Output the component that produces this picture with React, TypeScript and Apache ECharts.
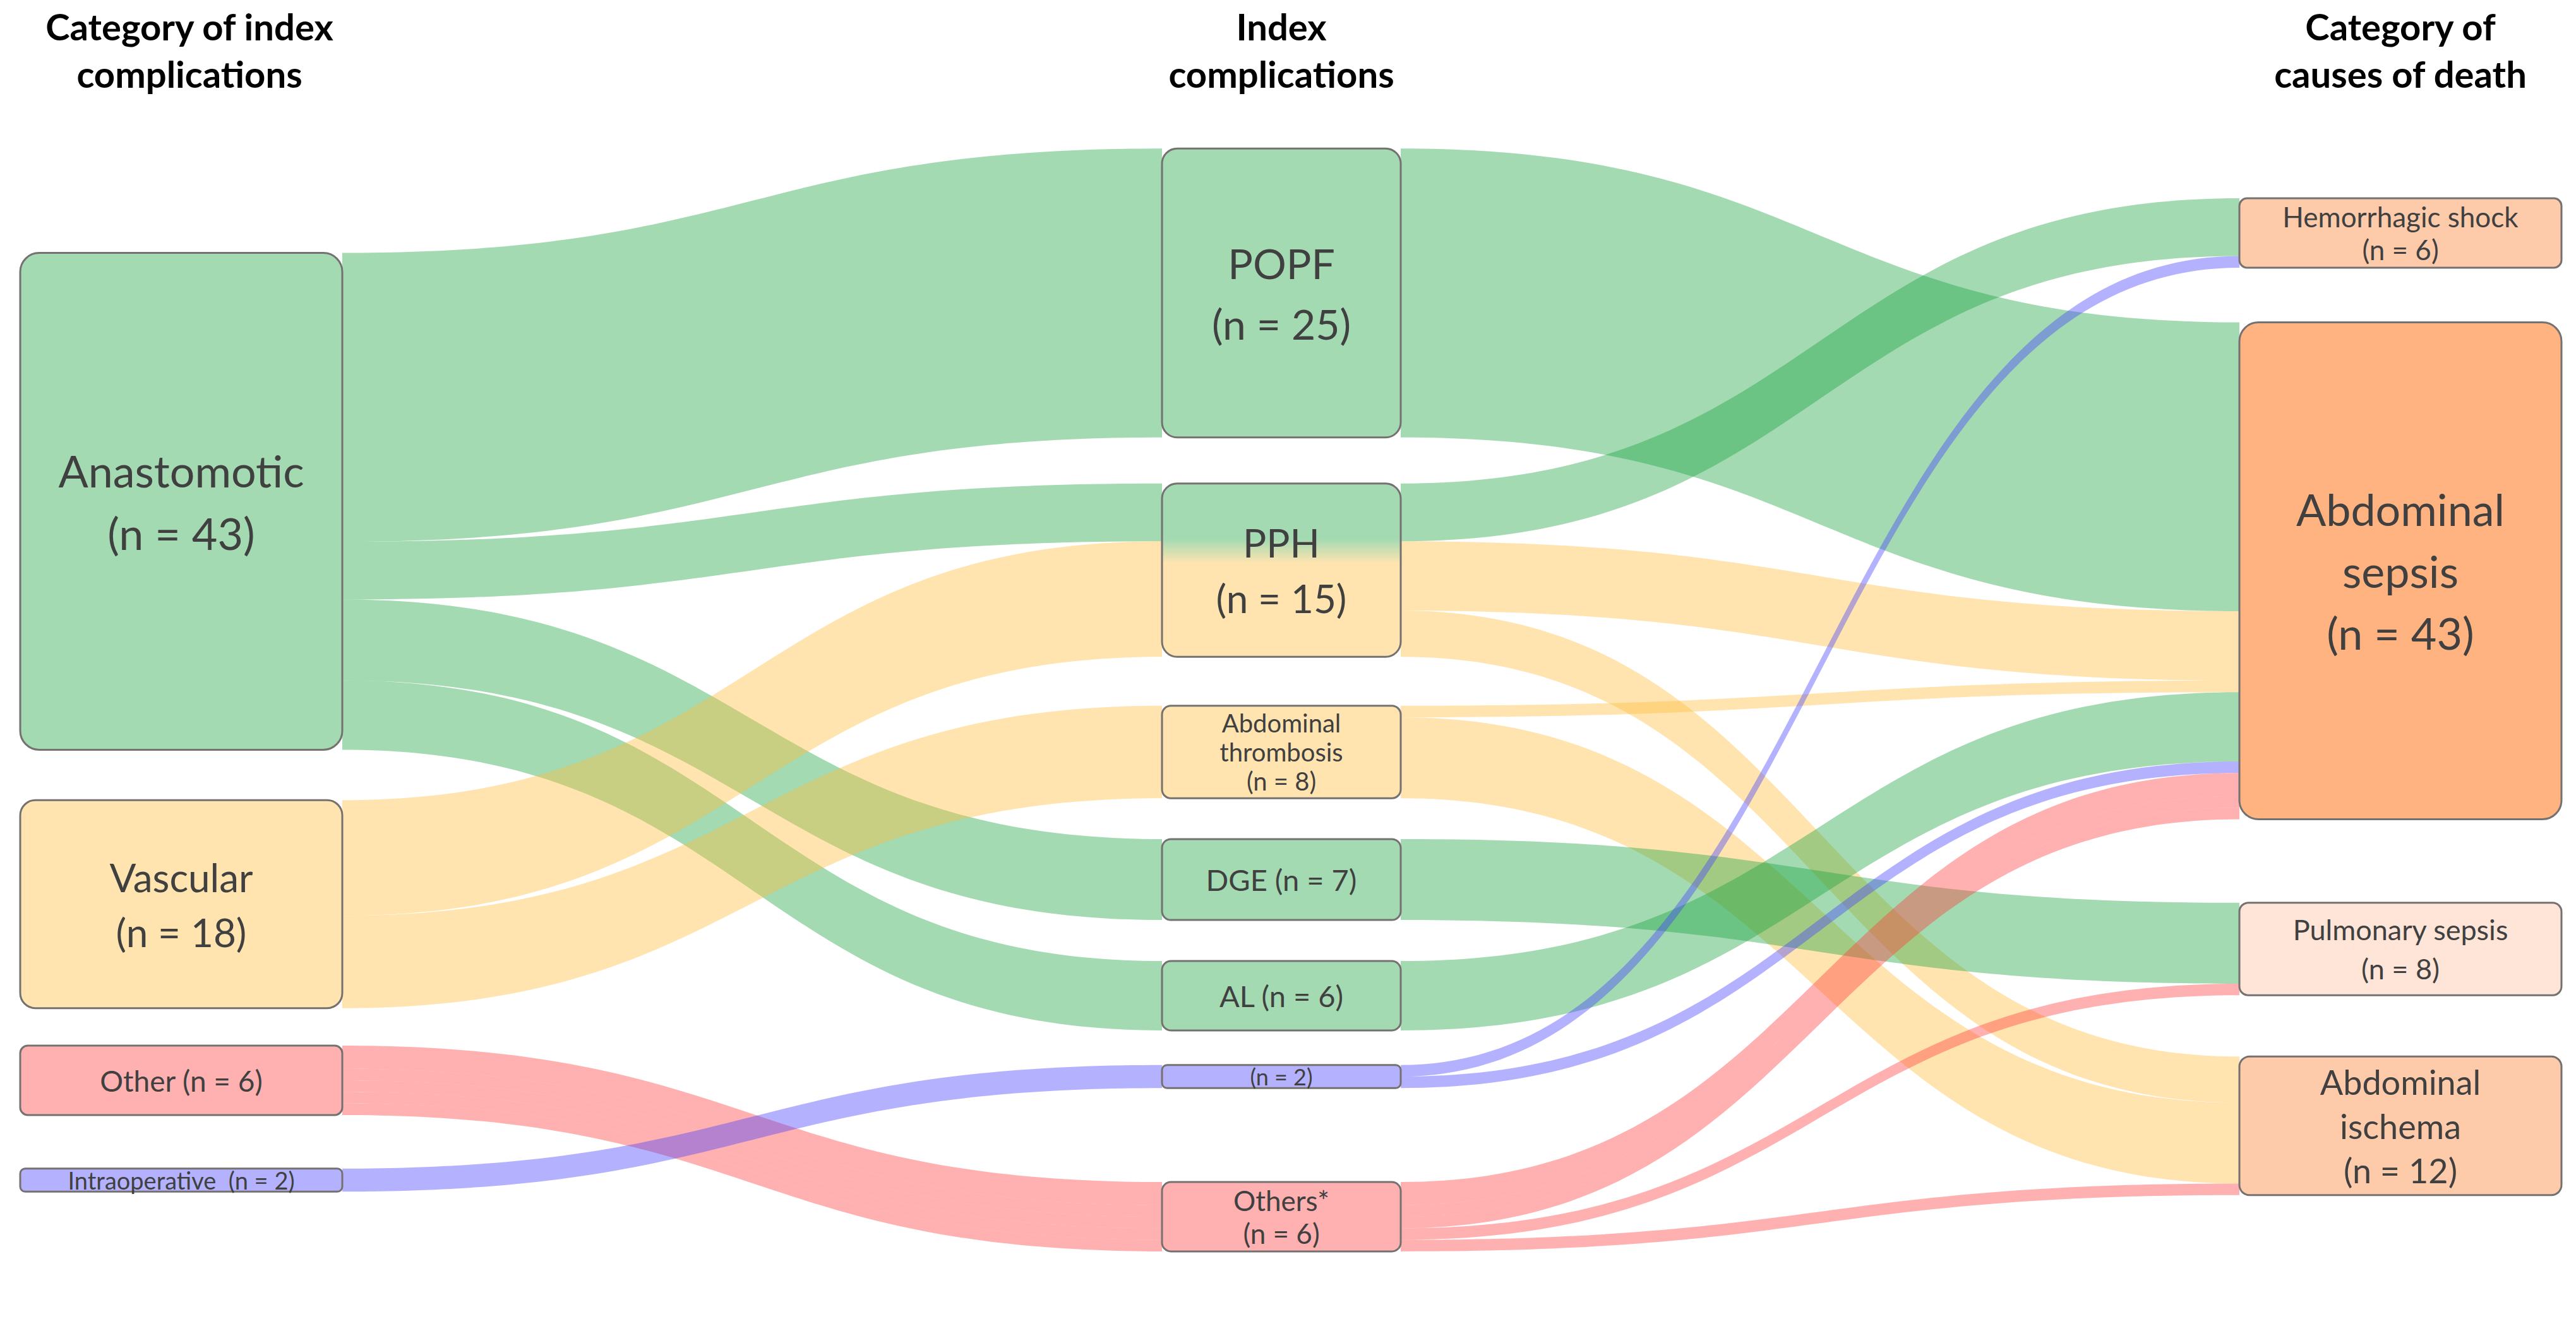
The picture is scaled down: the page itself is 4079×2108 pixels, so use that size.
import React, { useEffect, useRef } from 'react';
import * as echarts from 'echarts';

// ---------- DATA ----------
const columnTitles = ['Category of index\ncomplications', 'Index\ncomplications', 'Category of\ncauses of death'];

const categoryNodes = ['Anastomotic', 'Vascular', 'Other', 'Intraoperative'];
const complicationNodes = ['POPF', 'PPH', 'Abdominal thrombosis', 'DGE', 'AL', 'Intraoperative complication', 'Others*'];
const deathNodes = ['Hemorrhagic shock', 'Abdominal sepsis', 'Pulmonary sepsis', 'Abdominal ischema'];

const nodeLabelTemplates: Record<string, string> = {
  Anastomotic: 'Anastomotic\n(n = {n})',
  Vascular: 'Vascular\n(n = {n})',
  Other: 'Other (n = {n})',
  Intraoperative: 'Intraoperative  (n = {n})',
  POPF: 'POPF\n(n = {n})',
  PPH: 'PPH\n(n = {n})',
  'Abdominal thrombosis': 'Abdominal\nthrombosis\n(n = {n})',
  DGE: 'DGE (n = {n})',
  AL: 'AL (n = {n})',
  'Intraoperative complication': '(n = {n})',
  'Others*': 'Others*\n(n = {n})',
  'Hemorrhagic shock': 'Hemorrhagic shock\n(n = {n})',
  'Abdominal sepsis': 'Abdominal\nsepsis\n(n = {n})',
  'Pulmonary sepsis': 'Pulmonary sepsis\n(n = {n})',
  'Abdominal ischema': 'Abdominal\nischema\n(n = {n})',
};

// [source, target, patients, category of index complication]
const stage1Links: [string, string, number, string][] = [
  ['Anastomotic', 'POPF', 25, 'anastomotic'],
  ['Anastomotic', 'PPH', 5, 'anastomotic'],
  ['Anastomotic', 'DGE', 7, 'anastomotic'],
  ['Anastomotic', 'AL', 6, 'anastomotic'],
  ['Vascular', 'PPH', 10, 'vascular'],
  ['Vascular', 'Abdominal thrombosis', 8, 'vascular'],
  ['Other', 'Others*', 2, 'other'],
  ['Other', 'Others*', 1, 'other'],
  ['Other', 'Others*', 1, 'other'],
  ['Other', 'Others*', 1, 'other'],
  ['Other', 'Others*', 1, 'other'],
  ['Intraoperative', 'Intraoperative complication', 2, 'intraoperative'],
];

const stage2Links: [string, string, number, string][] = [
  ['POPF', 'Abdominal sepsis', 25, 'anastomotic'],
  ['PPH', 'Hemorrhagic shock', 5, 'anastomotic'],
  ['PPH', 'Abdominal sepsis', 6, 'vascular'],
  ['PPH', 'Abdominal ischema', 4, 'vascular'],
  ['Abdominal thrombosis', 'Abdominal sepsis', 1, 'vascular'],
  ['Abdominal thrombosis', 'Abdominal ischema', 7, 'vascular'],
  ['DGE', 'Pulmonary sepsis', 7, 'anastomotic'],
  ['AL', 'Abdominal sepsis', 6, 'anastomotic'],
  ['Intraoperative complication', 'Hemorrhagic shock', 1, 'intraoperative'],
  ['Intraoperative complication', 'Abdominal sepsis', 1, 'intraoperative'],
  ['Others*', 'Abdominal sepsis', 2, 'other'],
  ['Others*', 'Abdominal sepsis', 1, 'other'],
  ['Others*', 'Abdominal sepsis', 1, 'other'],
  ['Others*', 'Pulmonary sepsis', 1, 'other'],
  ['Others*', 'Abdominal ischema', 1, 'other'],
];

// ---------- LAYOUT & STYLE ----------
const CW = 4079;
const CH = 2108;
const SERIES_LEFT = 32;
const SERIES_RIGHT = 23;
const LW = CW - SERIES_LEFT - SERIES_RIGHT;
const LH = CH;
const PX_PER_PATIENT = 18.3;
const columnX = [32, 1840, 3546];
const sideNodeWidth = 510;
const midNodeWidth = 378;

const nodeCenterY: Record<string, number> = {
  Anastomotic: 794, Vascular: 1432, Other: 1711, Intraoperative: 1869,
  POPF: 464, PPH: 903, 'Abdominal thrombosis': 1191, DGE: 1393, AL: 1577,
  'Intraoperative complication': 1705, 'Others*': 1927,
  'Hemorrhagic shock': 369, 'Abdominal sepsis': 904, 'Pulmonary sepsis': 1503, 'Abdominal ischema': 1783,
};

const GREEN = '#A3DAB2';
const YELLOW = '#FFE4B0';
const RED = '#FFB0B0';
const PURPLE = '#B4B2FF';

const linkColors: Record<string, string> = {
  anastomotic: '#19A23F',
  vascular: '#FFBB3A',
  other: '#FF3A3A',
  intraoperative: '#443FFF',
};

const nodeFill: Record<string, any> = {
  Anastomotic: GREEN, Vascular: YELLOW, Other: RED, Intraoperative: PURPLE,
  POPF: GREEN,
  PPH: {
    type: 'linear', x: 0, y: 0, x2: 0, y2: 1,
    colorStops: [
      { offset: 0, color: GREEN }, { offset: 0.32, color: GREEN },
      { offset: 0.46, color: YELLOW }, { offset: 1, color: YELLOW },
    ],
  },
  'Abdominal thrombosis': YELLOW, DGE: GREEN, AL: GREEN,
  'Intraoperative complication': PURPLE, 'Others*': RED,
  'Hemorrhagic shock': '#FDCBAA', 'Abdominal sepsis': '#FFB380',
  'Pulmonary sepsis': '#FFE5D8', 'Abdominal ischema': '#FDCBAA',
};

// [fontSize, lineHeight, borderRadius]
const nodeTextStyle: Record<string, [number, number, number]> = {
  Anastomotic: [70, 99, 30], Vascular: [62, 87, 24], Other: [46, 56, 12], Intraoperative: [38, 44, 8],
  POPF: [66, 96, 24], PPH: [62, 88, 24], 'Abdominal thrombosis': [40, 46, 14], DGE: [47, 56, 14], AL: [47, 56, 14],
  'Intraoperative complication': [36, 42, 8], 'Others*': [44, 52, 14],
  'Hemorrhagic shock': [44, 52, 12], 'Abdominal sepsis': [70, 98, 30], 'Pulmonary sepsis': [45, 62, 14],
  'Abdominal ischema': [54, 70, 16],
};

const allLinks = [...stage1Links, ...stage2Links];

function nodeValue(name: string): number {
  let out = 0;
  let inn = 0;
  allLinks.forEach(([s, t, v]) => {
    if (s === name) out += v;
    if (t === name) inn += v;
  });
  return Math.max(out, inn);
}

function labelText(name: string): string {
  return (nodeLabelTemplates[name] || name).replace('{n}', String(nodeValue(name)));
}

const totalPatients = categoryNodes.reduce((a, n) => a + nodeValue(n), 0);
const nodeGap = (LH - totalPatients * PX_PER_PATIENT) / (complicationNodes.length - 1);

function buildSeries(visibleCols: number[], visibleStage: number, nodeWidth: number) {
  const cols = [categoryNodes, complicationNodes, deathNodes];
  const data: any[] = [];
  cols.forEach((names, ci) => {
    names.forEach((name) => {
      const visible = visibleCols.includes(ci);
      const [fs, lh, r] = nodeTextStyle[name];
      const h = nodeValue(name) * PX_PER_PATIENT;
      data.push({
        name,
        localX: (columnX[ci] - SERIES_LEFT) / LW,
        localY: (nodeCenterY[name] - h / 2) / LH,
        itemStyle: visible
          ? { color: nodeFill[name], borderColor: '#767171', borderWidth: 3, borderRadius: r }
          : { color: 'rgba(0,0,0,0)', borderWidth: 0, opacity: 0 },
        label: visible
          ? { show: true, fontSize: fs, lineHeight: lh }
          : { show: false },
      });
    });
  });
  const links: any[] = [];
  [stage1Links, stage2Links].forEach((stage, si) => {
    stage.forEach(([s, t, v, cat]) => {
      links.push({
        source: s,
        target: t,
        value: v,
        lineStyle: { color: linkColors[cat], opacity: si === visibleStage ? 0.4 : 0, curveness: 0.5 },
      });
    });
  });
  return {
    type: 'sankey',
    left: SERIES_LEFT,
    right: SERIES_RIGHT,
    top: 0,
    bottom: 0,
    nodeWidth,
    nodeGap,
    layoutIterations: 0,
    draggable: false,
    silent: true,
    emphasis: { disabled: true },
    label: {
      position: 'inside',
      color: '#404040',
      fontFamily: 'Lato',
      align: 'center',
      formatter: (p: any) => labelText(p.name),
    },
    data,
    links,
  };
}

const titleX = [300, 2029, 3801];

const option: any = {
  animation: false,
  backgroundColor: '#ffffff',
  graphic: columnTitles.map((t, i) => ({
    type: 'text',
    x: titleX[i],
    y: 4,
    z: 100,
    style: {
      text: t,
      fontFamily: 'Lato',
      fontWeight: 'bold',
      fontSize: 58,
      lineHeight: 75,
      fill: '#000000',
      align: 'center',
      verticalAlign: 'top',
      textAlign: 'center',
      textVerticalAlign: 'top',
    },
  })),
  series: [
    buildSeries([0, 2], 0, sideNodeWidth),
    buildSeries([1], 1, midNodeWidth),
  ],
};

export default function App() {
  const ref = useRef<HTMLDivElement>(null);
  useEffect(() => {
    const chart = echarts.init(ref.current as HTMLDivElement, null, { renderer: 'svg' });
    chart.setOption(option);
    return () => chart.dispose();
  }, []);
  return (
    <div
      ref={ref}
      style={{ position: 'fixed', left: 0, top: 0, width: CW, height: CH, background: '#fff' }}
    />
  );
}
